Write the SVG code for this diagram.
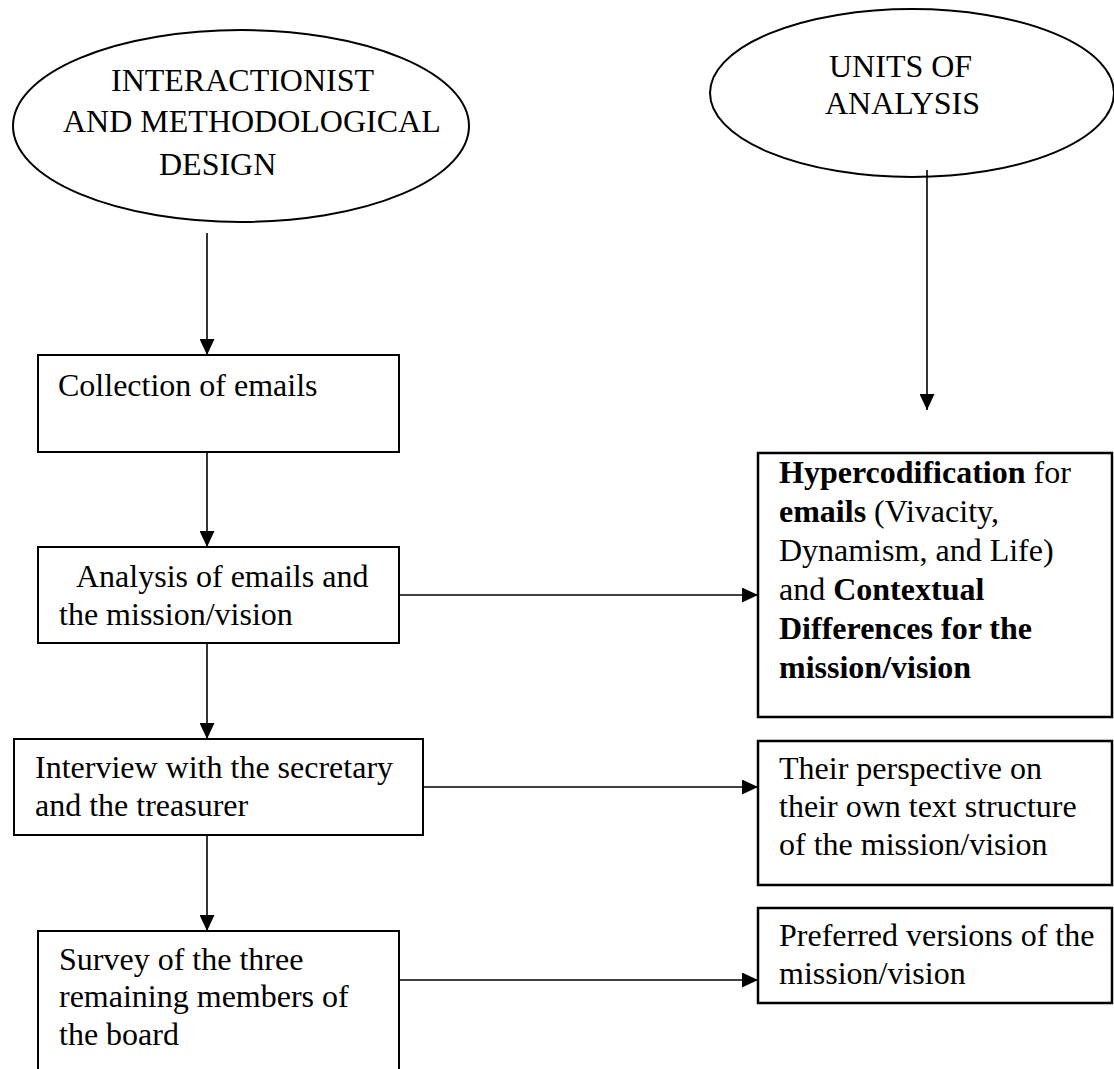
<svg xmlns="http://www.w3.org/2000/svg" width="1114" height="1069" viewBox="0 0 1114 1069">
<style>
text{font-family:"Liberation Serif","Times New Roman",serif;font-size:32px;fill:#000}
.b{font-weight:bold}
.shape{fill:#fff;stroke:#000;stroke-width:2}
.rshape{fill:#fff;stroke:#000;stroke-width:2.5}
.conn{stroke:#000;stroke-width:1.6;fill:none;marker-end:url(#arr)}
</style>
<defs>
<marker id="arr" markerUnits="userSpaceOnUse" markerWidth="16" markerHeight="15" refX="16" refY="7.5" orient="auto">
<path d="M0,0 L16,7.5 L0,15 z" fill="#000"/>
</marker>
</defs>
<rect width="1114" height="1069" fill="#fff"/>
<g id="design">
<ellipse class="shape" cx="241" cy="126" rx="228" ry="96"/>
<text x="111" y="91">INTERACTIONIST</text>
<text x="63" y="132">AND METHODOLOGICAL</text>
<text x="159" y="175">DESIGN</text>
</g>
<g id="units">
<ellipse class="shape" cx="912" cy="93" rx="202" ry="84"/>
<text x="829" y="77">UNITS OF</text>
<text x="825" y="114">ANALYSIS</text>
</g>
<g id="collection">
<rect class="shape" x="38" y="355" width="361" height="97"/>
<text x="58" y="396">Collection of emails</text>
</g>
<g id="analysis">
<rect class="shape" x="38" y="547" width="361" height="96"/>
<text x="76" y="587">Analysis of emails and</text>
<text x="59" y="625">the mission/vision</text>
</g>
<g id="interview">
<rect class="shape" x="14" y="739" width="409" height="96"/>
<text x="35" y="778">Interview with the secretary</text>
<text x="35" y="816">and the treasurer</text>
</g>
<g id="survey">
<rect class="shape" x="38" y="931" width="361" height="160"/>
<text x="59" y="970">Survey of the three</text>
<text x="59" y="1007">remaining members of</text>
<text x="59" y="1045">the board</text>
</g>
<g id="hypercodification">
<rect class="rshape" x="758" y="453" width="354" height="264"/>
<text x="779" y="483"><tspan class="b">Hypercodification</tspan> for</text>
<text x="779" y="522"><tspan class="b">emails</tspan> (Vivacity,</text>
<text x="779" y="561">Dynamism, and Life)</text>
<text x="779" y="600">and <tspan class="b">Contextual</tspan></text>
<text x="779" y="639" class="b">Differences for the</text>
<text x="779" y="678" class="b">mission/vision</text>
</g>
<g id="perspective">
<rect class="rshape" x="758" y="741" width="354" height="144"/>
<text x="779" y="779">Their perspective on</text>
<text x="779" y="817">their own text structure</text>
<text x="779" y="855">of the mission/vision</text>
</g>
<g id="preferred">
<rect class="rshape" x="758" y="908" width="354" height="95"/>
<text x="779" y="946">Preferred versions of the</text>
<text x="779" y="984">mission/vision</text>
</g>
<g id="connectors">
<line class="conn" x1="207" y1="233" x2="207" y2="355"/>
<line class="conn" x1="207" y1="452" x2="207" y2="547"/>
<line class="conn" x1="207" y1="643" x2="207" y2="739"/>
<line class="conn" x1="207" y1="835" x2="207" y2="931"/>
<line class="conn" x1="927" y1="170" x2="927" y2="410"/>
<line class="conn" x1="399" y1="595" x2="758" y2="595"/>
<line class="conn" x1="423" y1="787" x2="758" y2="787"/>
<line class="conn" x1="399" y1="980" x2="758" y2="980"/>
</g>
</svg>
